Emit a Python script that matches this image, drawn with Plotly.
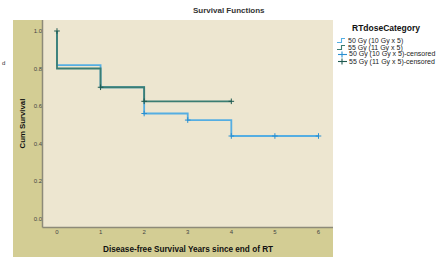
import plotly.graph_objects as go

# ---- data ----
blue_time = [0, 0, 1, 2, 3, 4, 6]
blue_surv = [1.0, 0.818, 0.70, 0.56, 0.525, 0.44, 0.44]
green_time = [0, 0, 1, 2, 4]
green_surv = [1.0, 0.80, 0.70, 0.625, 0.625]
blue_cens_time = [2, 3, 4, 5, 6]
blue_cens_surv = [0.56, 0.525, 0.44, 0.44, 0.44]
green_cens_time = [0, 1, 2, 4]
green_cens_surv = [1.0, 0.70, 0.625, 0.625]
legend_labels = ["50 Gy (10 Gy x 5)", "55 Gy (11 Gy x 5)",
                 "50 Gy (10 Gy x 5)-censored", "55 Gy (11 Gy x 5)-censored"]
x_ticks = [0, 1, 2, 3, 4, 5, 6]
y_ticks = [0.0, 0.2, 0.4, 0.6, 0.8, 1.0]

W, H = 442, 257
L, R, T, B = 43, 109, 20, 30
PW, PH = W - L - R, H - T - B

BLUE = "#55aee2"
GREEN = "#3b7d72"
GREEN_M = "#1f5a50"
BLUE_M = "#2a8fd0"
KHAKI = "#d3cd94"
CREAM = "#ede6d0"
FONT = "Liberation Sans, Arial, sans-serif"


def px(x):
    return (x - L) / PW


def py(y):
    return (H - B - y) / PH


fig = go.Figure()
fig.add_trace(go.Scatter(x=blue_time, y=blue_surv, mode="lines", line_shape="hv",
                         line=dict(color=BLUE, width=1.8), showlegend=False))
fig.add_trace(go.Scatter(x=green_time, y=green_surv, mode="lines", line_shape="hv",
                         line=dict(color=GREEN, width=1.8), showlegend=False))
fig.add_trace(go.Scatter(x=blue_cens_time, y=blue_cens_surv, mode="markers",
                         marker=dict(symbol="cross-thin", size=4, line=dict(color=BLUE_M, width=1)),
                         showlegend=False))
fig.add_trace(go.Scatter(x=green_cens_time, y=green_cens_surv, mode="markers",
                         marker=dict(symbol="cross-thin", size=4, line=dict(color=GREEN_M, width=1)),
                         showlegend=False))

shapes = [
    dict(type="rect", xref="paper", yref="paper", x0=px(13), x1=px(333), y0=py(257), y1=py(20),
         fillcolor=KHAKI, line=dict(width=0), layer="below"),
    dict(type="rect", xref="paper", yref="paper", x0=px(43), x1=px(333), y0=py(227), y1=py(20),
         fillcolor=CREAM, line=dict(width=0), layer="below"),
    dict(type="line", xref="paper", yref="paper", x0=px(42.5), x1=px(42.5), y0=py(227.5), y1=py(20),
         line=dict(color="#8d8a78", width=1.5)),
    dict(type="line", xref="paper", yref="paper", x0=px(42.5), x1=px(333), y0=py(227.5), y1=py(227.5),
         line=dict(color="#8d8a78", width=1.5)),
]

annotations = [
    dict(text="<b>Survival Functions</b>", x=px(229), y=py(10.5), xref="paper", yref="paper",
         showarrow=False, xanchor="center", yanchor="middle", font=dict(family=FONT, size=8, color="#333333")),
    dict(text="<b>Cum Survival</b>", x=px(21.5), y=py(124), xref="paper", yref="paper", textangle=-90,
         showarrow=False, xanchor="center", yanchor="middle", font=dict(family=FONT, size=7.8, color="#111111")),
    dict(text="<b>Disease-free Survival Years since end of RT</b>", x=px(188), y=py(249), xref="paper",
         yref="paper", showarrow=False, xanchor="center", yanchor="middle",
         font=dict(family=FONT, size=8.2, color="#111111")),
    dict(text="d", x=px(0), y=py(63), xref="paper", yref="paper", showarrow=False,
         xanchor="left", yanchor="middle", font=dict(family=FONT, size=6, color="#333333")),
    dict(text="<b>RTdoseCategory</b>", x=px(386), y=py(28.5), xref="paper", yref="paper",
         showarrow=False, xanchor="center", yanchor="middle", font=dict(family=FONT, size=8.5, color="#111111")),
]

leg_y = [40.5, 47.5, 54.5, 61.5]
leg_col = [BLUE, GREEN, BLUE_M, GREEN_M]
for i, (lab, yc, col) in enumerate(zip(legend_labels, leg_y, leg_col)):
    if i < 2:
        path = "M {} {} L {} {} L {} {} L {} {}".format(px(337), py(yc + 2), px(341.5), py(yc + 2),
                                                        px(341.5), py(yc - 2), px(345), py(yc - 2))
        shapes.append(dict(type="path", xref="paper", yref="paper", path=path,
                           line=dict(color=col, width=1.1)))
        tx = 345.5
    else:
        shapes.append(dict(type="line", xref="paper", yref="paper", x0=px(338), x1=px(347),
                           y0=py(yc), y1=py(yc), line=dict(color=col, width=1.1)))
        shapes.append(dict(type="line", xref="paper", yref="paper", x0=px(342), x1=px(342),
                           y0=py(yc - 3), y1=py(yc + 3), line=dict(color=col, width=1.1)))
        tx = 346.5
    annotations.append(dict(text=lab, x=px(tx), y=py(yc), xref="paper", yref="paper", showarrow=False,
                            xanchor="left", yanchor="middle", font=dict(family=FONT, size=7, color="#222222")))

fig.update_layout(
    width=W, height=H, margin=dict(l=L, r=R, t=T, b=B, pad=0),
    paper_bgcolor="white", plot_bgcolor="rgba(0,0,0,0)",
    showlegend=False, shapes=shapes, annotations=annotations,
    font=dict(family=FONT),
)
fig.update_xaxes(range=[-0.321, 6.333], tickvals=x_ticks, ticktext=[str(v) for v in x_ticks],
                 showgrid=False, zeroline=False, showline=False, ticks="",
                 tickfont=dict(family=FONT, size=6, color="#444444"), fixedrange=True)
fig.update_yaxes(range=[-0.0453, 1.0587], tickvals=y_ticks, tickformat=".1f",
                 showgrid=False, zeroline=False, showline=False, ticks="",
                 tickfont=dict(family=FONT, size=6, color="#444444"), fixedrange=True)

fig.write_html("out.html", config={"displayModeBar": False},
               post_script="document.body.style.margin='0px';document.body.style.padding='0px';")
